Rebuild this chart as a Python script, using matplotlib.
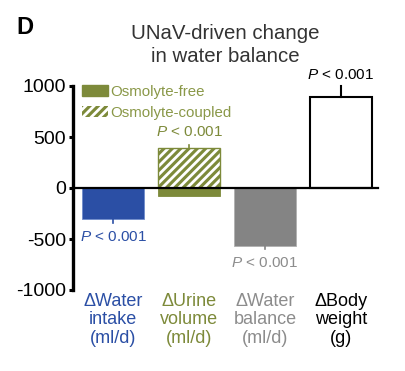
import matplotlib
matplotlib.use('Agg')
import matplotlib.pyplot as plt
from matplotlib.patches import Patch
import numpy as np

plt.rcParams['font.family'] = ['Liberation Sans', 'DejaVu Sans']
plt.rcParams['mathtext.fontset'] = 'custom'
plt.rcParams['mathtext.it'] = 'Liberation Sans:italic'
plt.rcParams['mathtext.rm'] = 'Liberation Sans'
plt.rcParams['hatch.linewidth'] = 2.0

# dados
categorias = ['\u0394Water\nintake\n(ml/d)', '\u0394Urine\nvolume\n(ml/d)',
              '\u0394Water\nbalance\n(ml/d)', '\u0394Body\nweight\n(g)']
valores = [-300, 390, -565, 890]
osmolito_livre = -80          # parte solida da barra de urina
erros = [40, 35, 35, 110]
textos_p = ['$\\it{P}$ < 0.001'] * 4
pos_p = [-480, 550, -735, 1110]
yticks = [-1000, -500, 0, 500, 1000]

azul = '#2b4fa5'
oliva = '#7d8a3a'
cinza = '#848484'
cores_texto = [azul, oliva, '#8c8c8c', 'black']

fig = plt.figure(figsize=(4.05, 3.71), dpi=100)
ax = fig.add_axes([73/405, 1-290/371, 305/405, 204/371])

x = np.arange(4)
w = 0.82

# barra azul
ax.bar(x[0], valores[0], w, color=azul, edgecolor='#6f8ccc', linewidth=0.6)
# barra de urina: parte livre (solida) + parte acoplada (hachurada)
ax.bar(x[1], osmolito_livre, w, color=oliva, edgecolor=oliva, linewidth=0.6)
ax.bar(x[1], valores[1], w, color=oliva, edgecolor='white', hatch='////', linewidth=0)
ax.bar(x[1], valores[1], w, fill=False, edgecolor=oliva, linewidth=1)
# barra cinza
ax.bar(x[2], valores[2], w, color=cinza, edgecolor='#b0b0b0', linewidth=0.6)
# barra branca
ax.bar(x[3], valores[3], w, color='white', edgecolor='black', linewidth=1.5)

# barras de erro so para fora
cores_erro = [azul, oliva, cinza, 'black']
for i in range(4):
    s = np.sign(valores[i])
    ax.plot([x[i], x[i]], [valores[i], valores[i] + s*erros[i]], color=cores_erro[i],
            lw=1.5 if i == 3 else 1.2, clip_on=False)

for i in range(4):
    ax.text(x[i], pos_p[i], textos_p[i], color=cores_texto[i], ha='center', va='center',
            fontsize=11, clip_on=False)

for i in range(4):
    ax.text(x[i], -1025, categorias[i], color=cores_texto[i], ha='center', va='top',
            fontsize=13, linespacing=1.12)

ax.set_xlim(-0.53, 3.49)
ax.set_ylim(-1000, 1000)
ax.set_yticks(yticks)
ax.set_yticklabels([str(t) for t in yticks], fontsize=14)
ax.set_xticks([])
ax.spines['top'].set_visible(False)
ax.spines['right'].set_visible(False)
ax.spines['bottom'].set_position(('data', 0))
ax.spines['bottom'].set_linewidth(1.6)
ax.spines['left'].set_linewidth(2.4)
ax.tick_params(axis='y', length=3, width=2.2, pad=2)

handles = [Patch(facecolor=oliva, edgecolor=oliva),
           Patch(facecolor=oliva, edgecolor='white', hatch='////', linewidth=0)]
leg = ax.legend(handles, ['Osmolyte-free', 'Osmolyte-coupled'], loc='upper left',
                bbox_to_anchor=(0.01, 1.035), frameon=False, fontsize=10.8,
                handlelength=1.7, handleheight=0.8, handletextpad=0.15,
                labelspacing=0.45, borderaxespad=0, labelcolor='#8a9848')

fig.text(225/405, 1-39/371, 'UNaV-driven change', ha='center', va='baseline',
         fontsize=14.7, color='#333333')
fig.text(225/405, 1-62/371, 'in water balance', ha='center', va='baseline',
         fontsize=14.7, color='#333333')
fig.text(16/405, 1-28/371, 'D', fontsize=17, weight='bold', va='center', ha='left')

fig.savefig('out.png', dpi=100)
